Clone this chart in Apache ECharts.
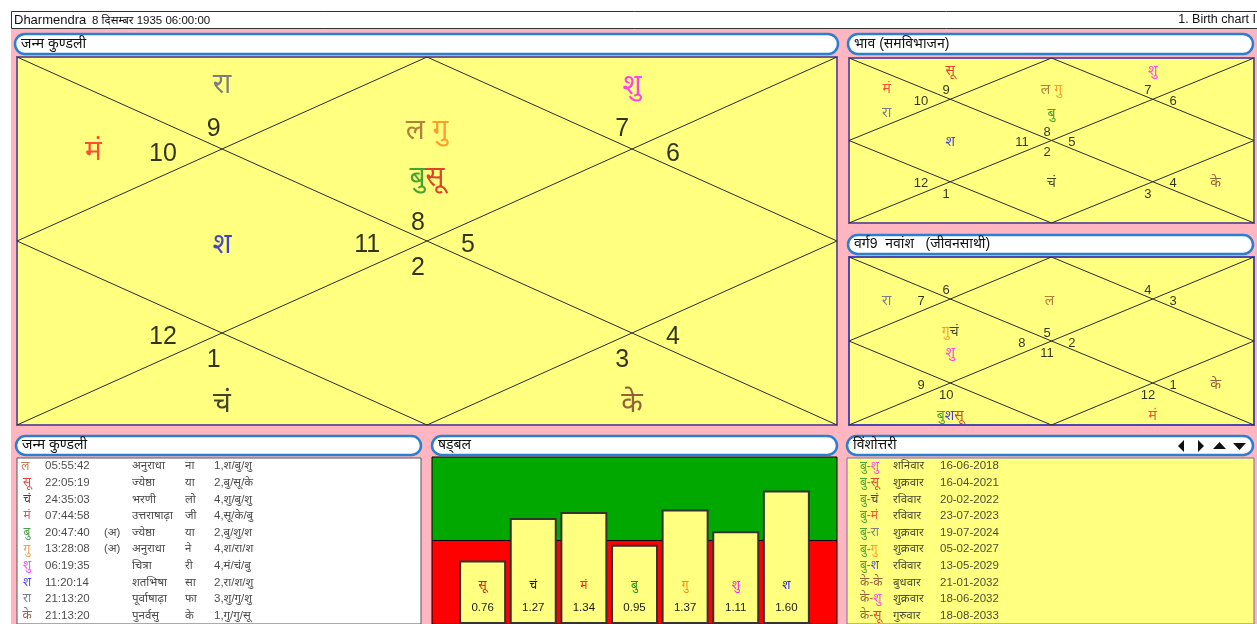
<!DOCTYPE html>
<html><head><meta charset="utf-8">
<script src="https://cdn.jsdelivr.net/npm/echarts@6/dist/echarts.min.js"></script>
<style>html,body{margin:0;padding:0;background:#fff}#c{width:1257px;height:624px}</style>
</head><body><div id="c"></div>
<script>
// ---------------- data ----------------
const personName = 'Dharmendra';
const birthInfo = '8 दिसम्बर 1935 06:00:00';
const pageTitle = '1. Birth chart I';
const panelTitles = ['जन्म कुण्डली','भाव (समविभाजन)','वर्ग9  नवांश   (जीवनसाथी)','जन्म कुण्डली','षड्बल','विंशोत्तरी'];

const planetNames = ['ल','सू','चं','मं','बु','गु','शु','श','रा','के'];

// sign number in houses 1..12
const rasiSigns = [8,9,10,11,12,1,2,3,4,5,6,7];
const bhavSigns = [8,9,10,11,12,1,2,3,4,5,6,7];
const navSigns  = [5,6,7,8,9,10,11,12,1,2,3,4];
// [house, lines of planets]
const rasiPlanets = [[1,[['ल','गु'],['बु','सू']]],[2,[['रा']]],[3,[['मं']]],[4,[['श']]],[6,[['चं']]],[8,[['के']]],[12,[['शु']]]];
const bhavPlanets = [[1,[['ल','गु'],['बु']]],[2,[['सू']]],[3,[['मं'],['रा']]],[4,[['श']]],[7,[['चं']]],[9,[['के']]],[12,[['शु']]]];
const navPlanets  = [[1,[['ल']]],[3,[['रा']]],[4,[['गु','चं'],['शु']]],[6,[['बु','श','सू']]],[8,[['मं']]],[9,[['के']]]];

// planet table
const tblPlanets = ['ल','सू','चं','मं','बु','गु','शु','श','रा','के'];
const tblDegrees = ['05:55:42','22:05:19','24:35:03','07:44:58','20:47:40','13:28:08','06:19:35','11:20:14','21:13:20','21:13:20'];
const tblRetro = ['','','','','(अ)','(अ)','','','',''];
const tblNakshatra = ['अनुराधा','ज्येष्ठा','भरणी','उत्तराषाढ़ा','ज्येष्ठा','अनुराधा','चित्रा','शतभिषा','पूर्वाषाढ़ा','पुनर्वसु'];
const tblSyllable = ['ना','या','लो','जी','या','ने','री','सा','फा','के'];
const tblPada = ['1,श/बु/शु','2,बु/सू/के','4,शु/बु/शु','4,सू/के/बु','2,बु/शु/श','4,श/रा/श','4,मं/चं/बु','2,रा/श/शु','3,शु/गु/शु','1,गु/गु/सू'];

// shadbal
const balPlanets = ['सू','चं','मं','बु','गु','शु','श'];
const balValues = [0.76,1.27,1.34,0.95,1.37,1.11,1.60];

// vimshottari
const dashaMaha = ['बु','बु','बु','बु','बु','बु','बु','के','के','के'];
const dashaAntar = ['शु','सू','चं','मं','रा','गु','श','के','शु','सू'];
const dashaDay = ['शनिवार','शुक्रवार','रविवार','रविवार','शुक्रवार','शुक्रवार','रविवार','बुधवार','शुक्रवार','गुरुवार'];
const dashaDate = ['16-06-2018','16-04-2021','20-02-2022','23-07-2023','19-07-2024','05-02-2027','13-05-2029','21-01-2032','18-06-2032','18-08-2033'];

// ---------------- style / layout ----------------
const planetColors = ['#a0602a','#d41515','#151515','#ff2020','#1a8c1a','#ff8412','#ff14ff','#1414e6','#5e5e7a','#7a3a28'];
const FONT = '"Liberation Sans", Arial, "Noto Sans", sans-serif';
const numPos = [[0.489,0.452],[0.24,0.197],[0.178,0.265],[0.427,0.512],[0.178,0.762],[0.24,0.824],[0.489,0.575],[0.738,0.824],[0.80,0.762],[0.55,0.512],[0.80,0.265],[0.738,0.197]];
const plAnchor = [[0.5,0.265],[0.25,0.078],[0.093,0.26],[0.25,0.512],[0.093,0.76],[0.25,0.945],[0.5,0.76],[0.75,0.945],[0.905,0.76],[0.75,0.512],[0.905,0.26],[0.75,0.08]];
const segs = [[[0,0],[1,1]],[[1,0],[0,1]],[[0.5,0],[1,0.5]],[[1,0.5],[0.5,1]],[[0.5,1],[0,0.5]],[[0,0.5],[0.5,0]]];

function richFor(size){
  const r = {};
  planetNames.forEach((p,i)=>{ r['k'+i] = {color:planetColors[i], fontSize:size, fontFamily:FONT}; });
  return r;
}
const pk = p => 'k'+planetNames.indexOf(p);
const ptxt = p => `{${pk(p)}|${p}}` + (p==='ल' ? ' ' : '');

const grids = [
  {left:17, top:57, width:820, height:368, show:true, backgroundColor:'#FFFF80', borderColor:'#6e5a96', borderWidth:2},
  {left:849, top:58, width:405, height:165, show:true, backgroundColor:'#FFFF80', borderColor:'#6e5a96', borderWidth:2},
  {left:849, top:257, width:405, height:168, show:true, backgroundColor:'#FFFF80', borderColor:'#4a4ab0', borderWidth:2},
  {left:17, top:458, width:404, height:171, show:true, backgroundColor:'#ffffff', borderColor:'#555', borderWidth:1},
  {left:432, top:457, width:405, height:170, show:false},
  {left:847, top:458, width:407, height:171, show:true, backgroundColor:'#FFFF80', borderColor:'#7b6bab', borderWidth:1}
];
const hid = {show:false};
const xAxes = [
  {gridIndex:0,type:'value',min:0,max:1,...hid},
  {gridIndex:1,type:'value',min:0,max:1,...hid},
  {gridIndex:2,type:'value',min:0,max:1,...hid},
  {gridIndex:3,type:'value',min:0,max:404,...hid},
  {gridIndex:4,type:'value',min:0,max:8,...hid},
  {gridIndex:5,type:'value',min:0,max:407,...hid}
];
const yAxes = [
  {gridIndex:0,type:'value',min:0,max:1,inverse:true,...hid},
  {gridIndex:1,type:'value',min:0,max:1,inverse:true,...hid},
  {gridIndex:2,type:'value',min:0,max:1,inverse:true,...hid},
  {gridIndex:3,type:'category',data:tblPlanets.map((_,i)=>i),inverse:true,...hid},
  {gridIndex:4,type:'value',min:0,max:2,...hid},
  {gridIndex:5,type:'category',data:dashaDate.map((_,i)=>i),inverse:true,...hid}
];

const series = [];
function kundli(gi, signs, placements, numFont, plFont, gap){
  series.push({type:'lines', coordinateSystem:'cartesian2d', xAxisIndex:gi, yAxisIndex:gi, silent:true, z:2,
    lineStyle:{color:'#2a2a2a', width:1, opacity:1}, data:segs.map(c=>({coords:c}))});
  series.push({type:'scatter', xAxisIndex:gi, yAxisIndex:gi, symbolSize:0, silent:true, z:3,
    label:{show:true, position:'inside', color:'#000', fontSize:numFont, fontFamily:FONT},
    data:signs.map((s,i)=>({value:numPos[i], label:{formatter:String(s)}}))});
  const d = [];
  placements.forEach(([h, lines])=>{
    lines.forEach((ln, li)=>{
      d.push({value:plAnchor[h-1], label:{offset:[0,(li-(lines.length-1)/2)*gap], formatter:ln.map(ptxt).join('')}});
    });
  });
  series.push({type:'scatter', xAxisIndex:gi, yAxisIndex:gi, symbolSize:0, silent:true, z:3,
    label:{show:true, position:'inside', fontSize:plFont, fontFamily:FONT, rich:richFor(plFont)}, data:d});
}
kundli(0, rasiSigns, rasiPlanets, 25, 28, 47);
kundli(1, bhavSigns, bhavPlanets, 13, 14, 24);
kundli(2, navSigns, navPlanets, 13, 14, 21);

// table columns
function col(gi, x, values, opts){
  series.push({type:'scatter', xAxisIndex:gi, yAxisIndex:gi, symbolSize:0, silent:true, z:3,
    label:Object.assign({show:true, position:'right', distance:0, color:'#1a1a1a', fontSize:11.5, fontFamily:FONT}, opts||{}),
    data:values.map((v,i)=>({value:[x,i], label:{formatter:v}}))});
}
col(3, 10, tblPlanets.map(ptxt), {position:'inside', rich:richFor(12)});
col(3, 28, tblDegrees);
col(3, 87, tblRetro);
col(3, 115, tblNakshatra);
col(3, 168, tblSyllable);
col(3, 197, tblPada);

col(5, 13, dashaMaha.map((m,i)=>`{${pk(m)}|${m}-}{${pk(dashaAntar[i])}|${dashaAntar[i]}}`), {rich:richFor(12)});
col(5, 46, dashaDay);
col(5, 93, dashaDate);

// shadbal bars
const balRich = richFor(12); balRich.v = {color:'#1a1a1a', fontSize:11.5, fontFamily:FONT, lineHeight:22};
Object.keys(balRich).forEach(k=>balRich[k].lineHeight=22);
series.push({type:'bar', xAxisIndex:4, yAxisIndex:4, barWidth:47, silent:true, z:3,
  itemStyle:{color:'#FFFF80', borderColor:'#333', borderWidth:2},
  label:{show:true, position:'insideBottom', distance:5,
    formatter:p=>`{${pk(balPlanets[p.dataIndex])}|${balPlanets[p.dataIndex]}}\n{v|${balValues[p.dataIndex].toFixed(2)}}`,
    rich:balRich},
  data:balValues.map((v,i)=>[i+1, v]),
  markArea:{silent:true, label:{show:false},
    data:[[{yAxis:0, itemStyle:{color:'#FF0000', borderColor:'#000', borderWidth:1}},{yAxis:1}],
          [{yAxis:1, itemStyle:{color:'#00A800', borderColor:'#000', borderWidth:1}},{yAxis:2}]]}
});

// ---------------- graphics ----------------
const titleBars = [[15,34,823,20],[848,34,405,20],[848,235,405,19],[16,436,405,19],[432,436,405,19],[847,436,406,19]];
const graphic = [
  {type:'rect', z:-10, shape:{x:11,y:28,width:1260,height:600}, style:{fill:'#FFB6C1'}},
  {type:'rect', z:-10, shape:{x:11.5,y:11.5,width:1260,height:17}, style:{fill:'#fff', stroke:'#333', lineWidth:1}},
  {type:'text', z:10, style:{text:personName, x:14, y:20, font:'13px '+FONT, fill:'#111', verticalAlign:'middle', textVerticalAlign:'middle'}},
  {type:'text', z:10, style:{text:birthInfo, x:92, y:20.5, font:'11.5px '+FONT, fill:'#111', verticalAlign:'middle', textVerticalAlign:'middle'}},
  {type:'text', z:10, style:{text:pageTitle, x:1256, y:20, font:'12.5px '+FONT, fill:'#111', align:'right', textAlign:'right', verticalAlign:'middle', textVerticalAlign:'middle'}}
];
titleBars.forEach((b,i)=>{
  graphic.push({type:'rect', z:5, shape:{x:b[0],y:b[1],width:b[2],height:b[3],r:10}, style:{fill:'#fff', stroke:'#2a7fd0', lineWidth:2.5}});
  graphic.push({type:'text', z:6, style:{text:panelTitles[i], x:b[0]+6, y:b[1]+b[3]/2, font:'14px '+FONT, fill:'#111', verticalAlign:'middle', textVerticalAlign:'middle'}});
});
[[[1184,440],[1184,452],[1178,446]],[[1198,440],[1198,452],[1204,446]],[[1213,449],[1226,449],[1219.5,442]],[[1233,443],[1246,443],[1239.5,450]]]
  .forEach(pts=>graphic.push({type:'polygon', z:6, shape:{points:pts}, style:{fill:'#111'}}));

const chart = echarts.init(document.getElementById('c'), null, {renderer:'canvas'});
chart.setOption({
  animation:false,
  backgroundColor:'#fff',
  textStyle:{fontFamily:FONT},
  grid:grids, xAxis:xAxes, yAxis:yAxes, series:series, graphic:graphic
});
</script></body></html>
